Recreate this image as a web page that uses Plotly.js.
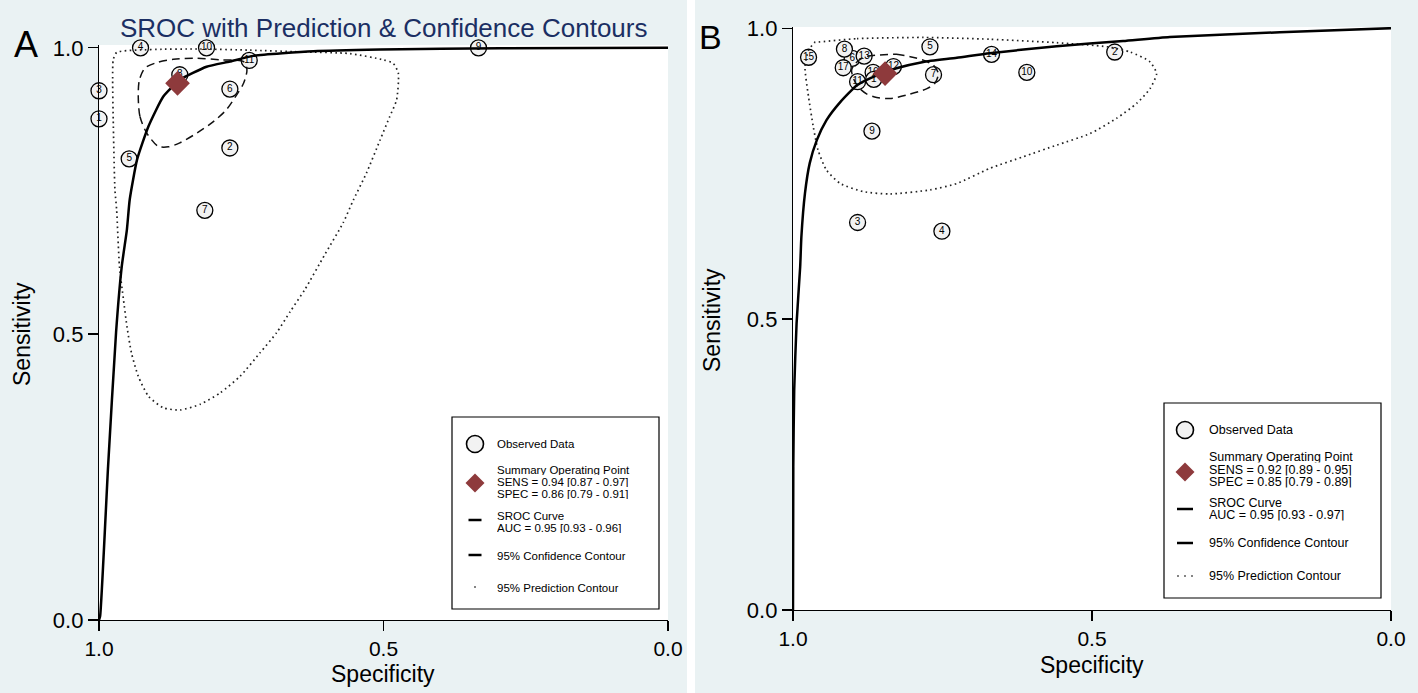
<!DOCTYPE html>
<html>
<head>
<meta charset="utf-8">
<script src="https://cdn.plot.ly/plotly-3.0.1.min.js"></script>
<style>html,body{margin:0;padding:0;background:#fff;}#chart{width:1418px;height:693px;}</style>
</head>
<body>
<div id="chart"></div>
<script>
// ---------------- Panel A data ----------------
const studyA = ['4','10','9','11','8','3','1','6','2','5','7'];
const specA  = [0.927,0.811,0.333,0.736,0.858,1.000,1.000,0.770,0.770,0.947,0.814];
const sensA  = [1.000,1.000,1.000,0.978,0.953,0.925,0.876,0.928,0.825,0.806,0.716];
const summarySpecA = [0.862];
const summarySensA = [0.938];
const srocSpecA = [1.0,0.998,0.984,0.970,0.960,0.951,0.946,0.933,0.913,0.887,0.858,0.811,0.770,0.729,0.623,0.506,0.295,0.0];
const srocSensA = [0.0,0.007,0.269,0.503,0.618,0.682,0.735,0.805,0.863,0.915,0.944,0.967,0.976,0.986,0.994,0.997,0.9995,1.0];
const confSpecA = [0.931,0.928,0.916,0.896,0.878,0.858,0.828,0.799,0.776,0.758,0.746,0.740,0.746,0.787,0.828,0.869,0.899,0.919,0.929,0.931];
const confSensA = [0.915,0.880,0.851,0.828,0.827,0.834,0.851,0.871,0.892,0.918,0.938,0.962,0.976,0.979,0.982,0.980,0.974,0.965,0.944,0.915];
const predSpecA = [0.969,0.910,0.822,0.735,0.647,0.559,0.500,0.483,0.474,0.477,0.489,0.506,0.530,0.553,0.571,0.603,0.638,0.664,0.688,0.717,0.752,0.787,0.822,0.858,0.887,0.913,0.931,0.943,0.951,0.957,0.964,0.969,0.972,0.975,0.976,0.975,0.969];
const predSensA = [0.992,0.997,0.998,0.996,0.993,0.990,0.979,0.973,0.956,0.909,0.880,0.839,0.781,0.734,0.694,0.639,0.578,0.539,0.502,0.467,0.426,0.397,0.377,0.367,0.371,0.391,0.426,0.467,0.514,0.560,0.618,0.717,0.752,0.874,0.944,0.979,0.992];
const legendTextA = ['Observed Data','Summary Operating Point','SENS = 0.94 [0.87 - 0.97]','SPEC = 0.86 [0.79 - 0.91]','SROC Curve','AUC = 0.95 [0.93 - 0.96]','95% Confidence Contour','95% Prediction Contour'];

// ---------------- Panel B data ----------------
const studyB = ['16','6','15','8','13','17','11','1','12','5','7','14','2','10','9','3','4'];
const specB  = [0.866,0.901,0.974,0.914,0.881,0.916,0.892,0.865,0.832,0.771,0.765,0.668,0.462,0.609,0.868,0.892,0.751];
const sensB  = [0.924,0.948,0.950,0.964,0.952,0.932,0.908,0.912,0.934,0.968,0.920,0.955,0.959,0.924,0.823,0.666,0.651];
const hiddenB = ['16'];   // study drawn underneath its neighbours
const summarySpecB = [0.846];
const summarySensB = [0.922];
const srocSpecB = [1.0,0.9995,0.998,0.994,0.988,0.986,0.980,0.972,0.960,0.944,0.921,0.893,0.860,0.827,0.782,0.726,0.671,0.559,0.448,0.370,0.186,0.0];
const srocSensB = [0.0,0.246,0.378,0.493,0.590,0.641,0.716,0.768,0.808,0.842,0.873,0.902,0.919,0.931,0.942,0.949,0.957,0.969,0.978,0.985,0.993,1.0];
const confSpecB = [0.855,0.827,0.804,0.782,0.765,0.757,0.763,0.776,0.810,0.838,0.860,0.877,0.891,0.899,0.902,0.896,0.882,0.855];
const confSensB = [0.954,0.955,0.951,0.945,0.936,0.922,0.905,0.896,0.885,0.879,0.881,0.887,0.899,0.914,0.928,0.939,0.950,0.954];
const predSpecB = [0.960,0.893,0.782,0.671,0.559,0.475,0.436,0.403,0.392,0.403,0.425,0.459,0.503,0.559,0.615,0.671,0.726,0.771,0.838,0.882,0.921,0.944,0.958,0.966,0.974,0.980,0.974,0.963,0.960];
const predSensB = [0.976,0.982,0.984,0.981,0.975,0.968,0.959,0.942,0.922,0.896,0.871,0.845,0.819,0.799,0.779,0.759,0.733,0.722,0.715,0.719,0.733,0.756,0.790,0.830,0.882,0.934,0.962,0.976,0.976];
const legendTextB = ['Observed Data','Summary Operating Point','SENS = 0.92 [0.89 - 0.95]','SPEC = 0.85 [0.79 - 0.89]','SROC Curve','AUC = 0.95 [0.93 - 0.97]','95% Confidence Contour','95% Prediction Contour'];

const tickVals = [0, 0.5, 1];
const tickText = ['0.0', '0.5', '1.0'];

// ---------------- layout helpers ----------------
const W = 1418, H = 693;
const FONT = 'Liberation Sans, Arial, Helvetica, sans-serif';
const DIAMOND = '#8e3a3c';
const BG = '#eaf2f3';
const px = x => x / W;
const py = y => 1 - y / H;

function pointTrace(xa, ya, study, spec, sens, keep) {
  const idx = study.map((s, i) => i).filter(keep);
  return {type:'scatter', mode:'markers+text', x:idx.map(i => spec[i]), y:idx.map(i => sens[i]),
     text:idx.map(i => study[i]), xaxis:xa, yaxis:ya, cliponaxis:false, textposition:'middle center',
     textfont:{family:FONT, size:10, color:'#000'},
     marker:{symbol:'circle', size:16, color:'#f2f2f2', line:{color:'#000', width:1.3}},
     hoverinfo:'skip', showlegend:false};
}

function panelTraces(xa, ya, study, spec, sens, hidden, sSpec, sSens, rS, rN, cS, cN, pS, pN) {
  return [
    pointTrace(xa, ya, study, spec, sens, i => hidden.indexOf(study[i]) >= 0),
    pointTrace(xa, ya, study, spec, sens, i => hidden.indexOf(study[i]) < 0),
    {type:'scatter', mode:'lines', x:pS, y:pN, xaxis:xa, yaxis:ya,
     line:{color:'#222', width:1.7, dash:'1.6px,3.4px', shape:'spline', smoothing:0.6},
     hoverinfo:'skip', showlegend:false},
    {type:'scatter', mode:'lines', x:cS, y:cN, xaxis:xa, yaxis:ya,
     line:{color:'#111', width:1.5, dash:'8px,5px', shape:'spline', smoothing:0.8},
     hoverinfo:'skip', showlegend:false},
    {type:'scatter', mode:'lines', x:rS, y:rN, xaxis:xa, yaxis:ya,
     line:{color:'#000', width:2.5, shape:'spline', smoothing:0.5},
     hoverinfo:'skip', showlegend:false},
    {type:'scatter', mode:'markers', x:sSpec, y:sSens, xaxis:xa, yaxis:ya, cliponaxis:false,
     marker:{symbol:'diamond', size:19, color:DIAMOND, line:{width:0}},
     hoverinfo:'skip', showlegend:false}
  ];
}

const data = [].concat(
  panelTraces('x','y', studyA, specA, sensA, [], summarySpecA, summarySensA, srocSpecA, srocSensA, confSpecA, confSensA, predSpecA, predSensA),
  panelTraces('x2','y2', studyB, specB, sensB, hiddenB, summarySpecB, summarySensB, srocSpecB, srocSensB, confSpecB, confSensB, predSpecB, predSensB)
);

function axisBase() {
  return {showline:true, linecolor:'#000', linewidth:1.2, ticks:'outside', ticklen:10, tickwidth:1.2,
          tickcolor:'#000', tickvals:tickVals, ticktext:tickText, showgrid:false, zeroline:false,
          tickfont:{family:FONT, size:22, color:'#000'}, fixedrange:true};
}

const shapes = [
  {type:'rect', xref:'paper', yref:'paper', x0:px(687), x1:px(695), y0:0, y1:1, fillcolor:'#ffffff', line:{width:0}, layer:'below'}
];
const annotations = [];

function ann(text, x, y, size, opts) {
  annotations.push(Object.assign({text:text, x:px(x), y:py(y), xref:'paper', yref:'paper', showarrow:false,
    xanchor:'center', yanchor:'middle', font:{family:FONT, size:size, color:'#000'}}, opts || {}));
}

function legend(box, symX, textX, rows, texts, size, rowH, lineHalf, r, predDots) {
  shapes.push({type:'rect', xref:'paper', yref:'paper', x0:px(box[0]), x1:px(box[2]), y0:py(box[3]), y1:py(box[1]),
               fillcolor:'#fff', line:{color:'#000', width:1.2}, layer:'above'});
  shapes.push({type:'circle', xref:'paper', yref:'paper', x0:px(symX-r), x1:px(symX+r), y0:py(rows.circle+r), y1:py(rows.circle-r),
               fillcolor:'#f2f2f2', line:{color:'#000', width:1.6}, layer:'above'});
  const d = 9.5, dy = rows.diamond;
  shapes.push({type:'path', xref:'paper', yref:'paper',
               path:`M ${px(symX)},${py(dy-d)} L ${px(symX+d)},${py(dy)} L ${px(symX)},${py(dy+d)} L ${px(symX-d)},${py(dy)} Z`,
               fillcolor:DIAMOND, line:{width:0}, layer:'above'});
  [rows.sroc, rows.conf].forEach(yy => shapes.push({type:'line', xref:'paper', yref:'paper',
     x0:px(symX-lineHalf), x1:px(symX+lineHalf), y0:py(yy), y1:py(yy), line:{color:'#000', width:2.5}, layer:'above'}));
  predDots.forEach(dx => shapes.push({type:'rect', xref:'paper', yref:'paper',
     x0:px(symX+dx-0.8), x1:px(symX+dx+0.8), y0:py(rows.pred+0.8), y1:py(rows.pred-0.8),
     fillcolor:'#333', line:{width:0}, layer:'above'}));
  texts.forEach((t, i) => ann(t, textX, rows.text[i], size, {xanchor:'left', height:rowH, borderpad:0, valign:'middle'}));
}

legend([452,417,659,609], 475, 496,
  {circle:444, diamond:483, sroc:520, conf:555, pred:587, text:[444,469,481,493,515,527,555,587]},
  legendTextA, 11.5, 11, 6.5, 8.5, [0]);
legend([1164,403,1381,598], 1185, 1208,
  {circle:430, diamond:472, sroc:509, conf:543, pred:576, text:[430,457,470,482,503,515,543,576]},
  legendTextB, 12.5, 11.5, 8, 8.5, [-7,0,7]);

// titles & labels
ann('SROC with Prediction & Confidence Contours', 383, 28, 26, {font:{family:FONT, size:26, color:'#1b2f63'}});
ann('A', 26, 44, 36);
ann('B', 710, 37, 34);
ann('Specificity', 383, 674, 23);
ann('Sensitivity', 22, 334, 23, {textangle:-90});
ann('Specificity', 1092, 665, 23);
ann('Sensitivity', 712, 320, 23, {textangle:-90});

const layout = {
  width:W, height:H, margin:{l:0, r:0, t:0, b:0},
  paper_bgcolor:BG, plot_bgcolor:'#ffffff', showlegend:false,
  xaxis:Object.assign(axisBase(), {domain:[px(99), px(668)], range:[1,0], anchor:'y', tickfont:{family:FONT, size:21, color:'#000'}}),
  yaxis:Object.assign(axisBase(), {domain:[py(620), py(45)], range:[0,1.005], anchor:'x'}),
  xaxis2:Object.assign(axisBase(), {domain:[px(793), px(1391)], range:[1,0], anchor:'y2', tickfont:{family:FONT, size:21, color:'#000'}}),
  yaxis2:Object.assign(axisBase(), {domain:[py(610), py(27)], range:[0,1.002], anchor:'x2'}),
  shapes:shapes, annotations:annotations
};

Plotly.newPlot('chart', data, layout, {staticPlot:true, displayModeBar:false});
</script>
</body>
</html>
